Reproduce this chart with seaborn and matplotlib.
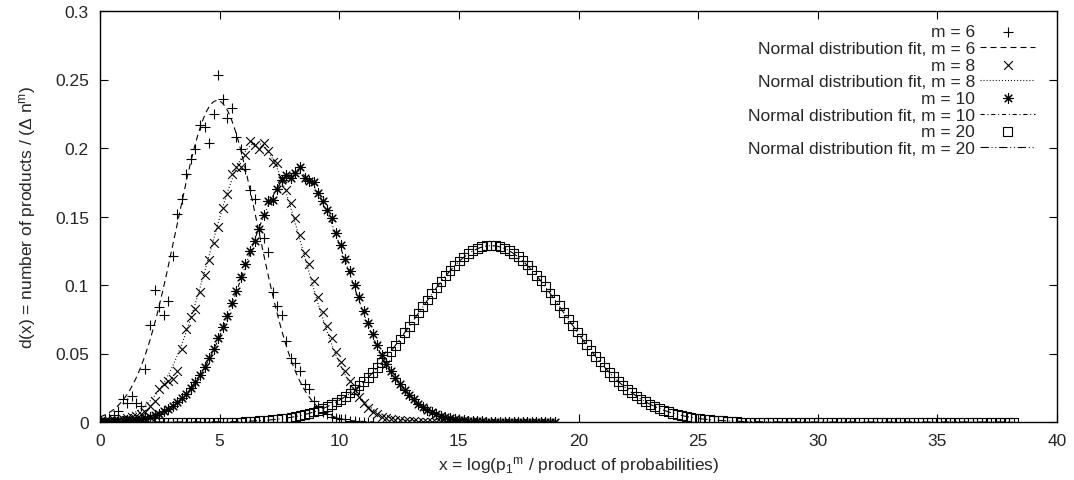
import numpy as np
import pandas as pd
import matplotlib
matplotlib.use("Agg")
import matplotlib.pyplot as plt
import seaborn as sns

# histogram bin width along x (all series share the same bins)
BIN_WIDTH = 0.19

# d(x) per bin
m6_values = [
    0.001, 0.002, 0.003, 0.005, 0.008, 0.017, 0.014, 0.019, 0.014, 0.012,
    0.039, 0.071, 0.096, 0.084, 0.078, 0.088, 0.121, 0.152, 0.163, 0.181,
    0.192, 0.199, 0.217, 0.215, 0.204, 0.225, 0.253, 0.236, 0.222, 0.229,
    0.208, 0.199, 0.185, 0.169, 0.163, 0.141, 0.134, 0.124, 0.095, 0.085,
    0.078, 0.059, 0.047, 0.043, 0.037, 0.028, 0.024, 0.015, 0.011, 0.007,
    0.006, 0.004, 0.003, 0.002, 0.002, 0.001, 0.001, 0.0, 0.0, 0.0, 0.0,
]

m8_values = [
    0.0005, 0.0007, 0.001, 0.0013, 0.0017, 0.0022, 0.0028, 0.0036, 0.0045, 0.0056,
    0.007, 0.0115, 0.0156, 0.0241, 0.0277, 0.0296, 0.0314, 0.0375, 0.0533, 0.068,
    0.0764, 0.0825, 0.0946, 0.1073, 0.1185, 0.1307, 0.142, 0.156, 0.1664, 0.181,
    0.186, 0.186, 0.195, 0.205, 0.202, 0.199, 0.204, 0.198, 0.190, 0.189,
    0.178, 0.169, 0.160, 0.149, 0.1365, 0.123, 0.115, 0.103, 0.091, 0.080,
    0.070, 0.061, 0.051, 0.044, 0.037, 0.030, 0.023, 0.018, 0.014, 0.010,
    0.0075, 0.0055, 0.004, 0.003, 0.0022, 0.0016, 0.0012, 0.0008, 0.0006, 0.0004,
    0.0003, 0.0002, 0.0001, 0.0, 0.0, 0.0, 0.0, 0.0, 0.0, 0.0, 0.0,
]

m10_values = [
    0.0002, 0.0002, 0.0003, 0.0004, 0.0006, 0.0008, 0.0011, 0.0014, 0.0018, 0.0024,
    0.003, 0.0039, 0.0049, 0.0062, 0.0077, 0.0095, 0.0117, 0.0143, 0.0173, 0.0208,
    0.0248, 0.0293, 0.0345, 0.0402, 0.0466, 0.0535, 0.061, 0.0691, 0.0777, 0.0867,
    0.0959, 0.1055, 0.115, 0.1245, 0.132, 0.141, 0.151, 0.161, 0.162, 0.170,
    0.177, 0.180, 0.178, 0.182, 0.186, 0.178, 0.176, 0.175, 0.167, 0.1616,
    0.155, 0.149, 0.138, 0.129, 0.119, 0.110, 0.100, 0.091, 0.081, 0.0725,
    0.064, 0.056, 0.049, 0.0422, 0.037, 0.032, 0.0275, 0.023, 0.0195, 0.0165,
    0.0135, 0.011, 0.009, 0.0072, 0.0058, 0.0046, 0.0036, 0.0028, 0.0022, 0.0017,
    0.0013, 0.001, 0.0007, 0.0005, 0.0004, 0.0003, 0.0002, 0.0002, 0.0001, 0.0,
    0.0, 0.0, 0.0, 0.0, 0.0, 0.0, 0.0, 0.0, 0.0, 0.0, 0.0,
]

m20_values = [0.0] * 32 + [
    0.0005, 0.0007, 0.0008, 0.001, 0.0012, 0.0014, 0.0017, 0.002,
    0.0024, 0.0029, 0.0034, 0.004, 0.0047, 0.0054, 0.0063, 0.0073, 0.0085, 0.0098,
    0.0112, 0.0128, 0.0146, 0.0166, 0.0187, 0.0211, 0.0237, 0.0264, 0.0294, 0.0326,
    0.0361, 0.0397, 0.0435, 0.0476, 0.0517, 0.0561, 0.0606, 0.0652, 0.0699, 0.0747,
    0.0795, 0.0843, 0.089, 0.0937, 0.0982, 0.1026, 0.1067, 0.1106, 0.1142, 0.1175,
    0.1204, 0.123, 0.1251, 0.1268, 0.128, 0.1287, 0.129, 0.1287, 0.1281, 0.1269,
    0.1253, 0.1232, 0.1207, 0.1178, 0.1146, 0.111, 0.1071, 0.103, 0.0987, 0.0942,
    0.0895, 0.0848, 0.08, 0.0752, 0.0704, 0.0657, 0.0611, 0.0566, 0.0522, 0.048,
    0.0439, 0.0401, 0.0364, 0.033, 0.0297, 0.0267, 0.0239, 0.0213, 0.019, 0.0168,
    0.0148, 0.013, 0.0114, 0.0099, 0.0086, 0.0075, 0.0064, 0.0055, 0.0047, 0.004,
    0.0034, 0.0029, 0.0024, 0.0021, 0.0017, 0.0014, 0.0012, 0.001, 0.0008, 0.0007,
    0.0005,
] + [0.0] * 61

series_m = [6, 8, 10, 20]
series_values = [m6_values, m8_values, m10_values, m20_values]

# normal distribution fit parameters (mean, sigma) for each m
fit_mean = [4.9, 6.55, 8.2, 16.35]
fit_sigma = [1.70, 1.96, 2.19, 3.10]

markers = ["+", "x", (8, 2, 0), "s"]
marker_sizes = [48, 40, 48, 40]
fit_dashes = [(0, (4.3, 2.9)), (0, (0.7, 1.5)), (0, (3.0, 2.0, 0.7, 2.0)),
              (0, (6.0, 2.0, 0.7, 2.0, 0.7, 2.0))]

sns.set_style("ticks")
plt.rcParams["font.family"] = ["Liberation Sans", "DejaVu Sans"]
plt.rcParams["mathtext.fontset"] = "custom"
plt.rcParams["mathtext.rm"] = "Liberation Sans"
plt.rcParams["mathtext.it"] = "Liberation Sans"
plt.rcParams["lines.scale_dashes"] = False
plt.rcParams["font.size"] = 12.5

fig = plt.figure(figsize=(10.74, 4.81), dpi=100)
ax = fig.add_axes([100 / 1074, 1 - 423 / 481, 957 / 1074, 411 / 481])

for m, vals, mk, ms, dash, mu, sd in zip(series_m, series_values, markers,
                                         marker_sizes, fit_dashes, fit_mean, fit_sigma):
    df = pd.DataFrame({"x": BIN_WIDTH * np.arange(len(vals)), "d": vals})
    if mk == "s":
        sns.scatterplot(data=df, x="x", y="d", marker="s", s=ms, facecolor="none",
                        edgecolor="black", linewidth=0.8, ax=ax, label=f"m = {m}", zorder=3)
    else:
        sns.scatterplot(data=df, x="x", y="d", marker=mk, s=ms, color="black",
                        linewidth=0.8, ax=ax, label=f"m = {m}", zorder=3)
    xf = np.linspace(0, df["x"].max(), 600)
    fit = pd.DataFrame({"x": xf,
                        "d": np.exp(-(xf - mu) ** 2 / (2 * sd ** 2)) / (sd * np.sqrt(2 * np.pi))})
    sns.lineplot(data=fit, x="x", y="d", color="black", linewidth=0.8,
                 linestyle=dash, ax=ax, label=f"Normal distribution fit, m = {m}", zorder=2)

ax.set_xlim(0, 40)
ax.set_ylim(0, 0.3)
ax.set_xticks(np.arange(0, 41, 5))
ax.set_yticks([0, 0.05, 0.1, 0.15, 0.2, 0.25, 0.3])
ax.set_yticklabels(["0", "0.05", "0.1", "0.15", "0.2", "0.25", "0.3"])
ax.tick_params(direction="in", top=True, right=True, length=6, width=0.8,
               pad=8, labelsize=12.5, color="black")
for sp in ax.spines.values():
    sp.set_visible(True)
    sp.set_linewidth(1.0)
    sp.set_color("black")

ax.set_xlabel(r"x = log(p$\mathregular{_1}$$\mathregular{^m}$ / product of probabilities)",
              fontsize=12.5)
ax.set_ylabel(r"d(x) = number of products / ($\Delta$ n$\mathregular{^m}$)", fontsize=12.5)
ax.xaxis.set_label_coords(0.5, -0.078)
ax.yaxis.set_label_coords(-0.065, 0.5)

leg = ax.legend(loc="upper right", bbox_to_anchor=(1035 / 1074, 1 - 25 / 481),
                bbox_transform=fig.transFigure, frameon=False, markerfirst=False,
                handlelength=3.15, handletextpad=0.3, labelspacing=0.09,
                borderpad=0, borderaxespad=0, fontsize=12.5)

fig.savefig("out.png", dpi=100)
